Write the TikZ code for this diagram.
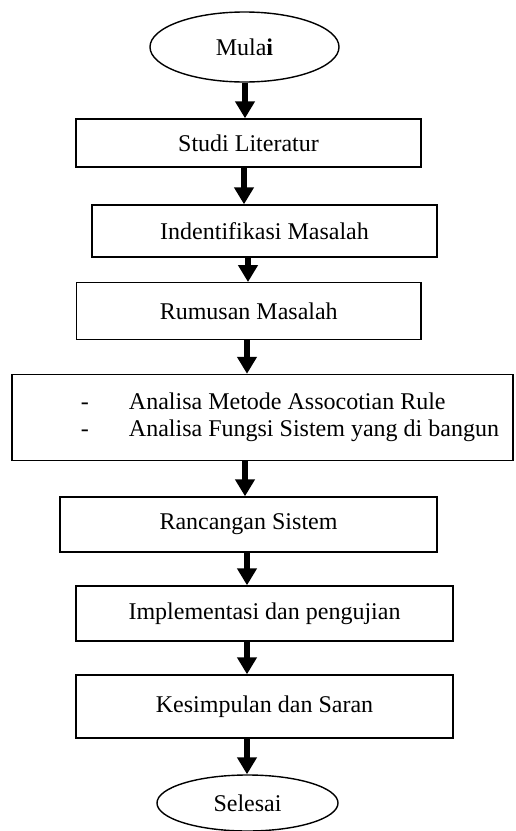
\documentclass[tikz,border=0pt]{standalone}
\usepackage{fontspec}
\setmainfont{Liberation Serif}
\usetikzlibrary{shapes.geometric,arrows.meta}
\begin{document}
\begin{tikzpicture}[x=1pt,y=-1pt,
  every node/.style={font=\fontsize{24}{26.7}\selectfont, inner sep=0pt, text=black},
  stepbox/.style={draw, line width=1.4pt, rectangle},
  term/.style={draw, line width=1.4pt, ellipse},
  flow/.style={line width=6.5pt, -{Triangle[width=19pt 0 0, length=17pt 0 0]}}]
\useasboundingbox (0,0) rectangle (515,831);
\node[term, minimum width=189pt, minimum height=70pt] (mulai) at (244.5,47) {Mula\textbf{i}};
\node[stepbox, minimum width=345pt, minimum height=48pt] (studi) at (248.5,143) {Studi Literatur};
\node[stepbox, minimum width=345pt, minimum height=52pt] (ident) at (264.5,231) {Indentifikasi Masalah};
\node[stepbox, minimum width=344.5pt, minimum height=56.5pt] (rumus) at (248.75,311) {Rumusan Masalah};
\node[stepbox, minimum width=501pt, minimum height=86pt, text width=501pt, align=flush left] (anal) at (262.5,417.5)
  {\hspace*{69pt}\makebox[48pt][l]{-}Analisa Metode Assocotian Rule\\
   \hspace*{69pt}\makebox[48pt][l]{-}Analisa Fungsi Sistem yang di bangun};
\node[stepbox, minimum width=377pt, minimum height=55pt] (ranc) at (248.5,524.5) {Rancangan Sistem};
\node[stepbox, minimum width=377pt, minimum height=55pt] (impl) at (264.5,613.5) {Implementasi dan pengujian};
\node[stepbox, minimum width=377pt, minimum height=63pt] (kesim) at (264.5,706.5) {Kesimpulan dan Saran};
\node[term, minimum width=181pt, minimum height=56pt] (selesai) at (247.5,803) {Selesai};
\coordinate (a1) at (245,0);
\coordinate (a2) at (244,0);
\coordinate (a3) at (248,0);
\coordinate (a4) at (247,0);
\coordinate (a5) at (245,0);
\coordinate (a6) at (247,0);
\coordinate (a7) at (247,0);
\coordinate (a8) at (247,0);
\draw[flow] (a1 |- mulai.south) -- (a1 |- studi.north);
\draw[flow] (a2 |- studi.south) -- (a2 |- ident.north);
\draw[flow] (a3 |- ident.south) -- (a3 |- rumus.north);
\draw[flow] (a4 |- rumus.south) -- (a4 |- anal.north);
\draw[flow] (a5 |- anal.south) -- (a5 |- ranc.north);
\draw[flow] (a6 |- ranc.south) -- (a6 |- impl.north);
\draw[flow] (a7 |- impl.south) -- (a7 |- kesim.north);
\draw[flow] (a8 |- kesim.south) -- (a8 |- selesai.north);
\end{tikzpicture}
\end{document}
